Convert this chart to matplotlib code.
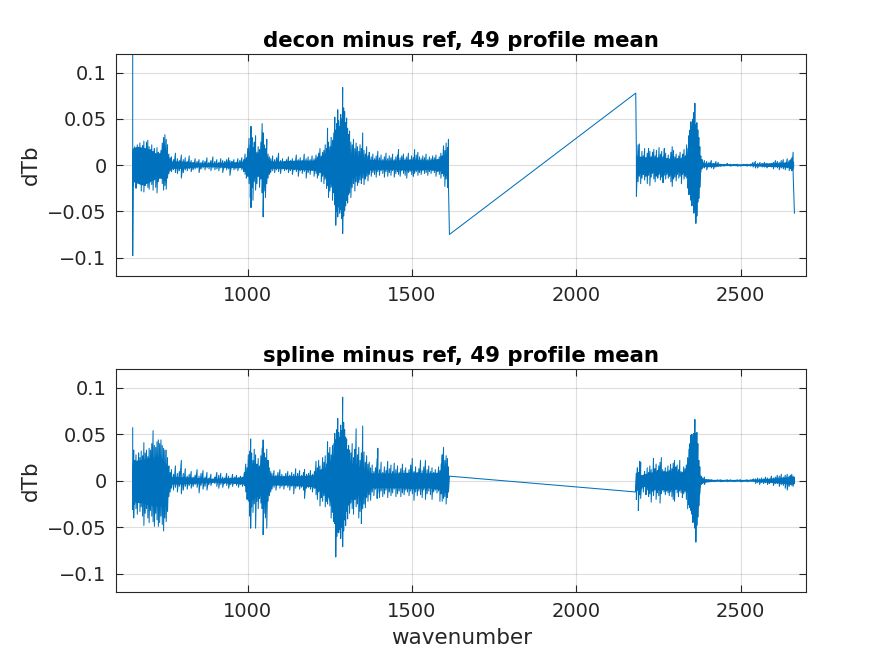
import numpy as np
import matplotlib
matplotlib.use("Agg")
import matplotlib.pyplot as plt

# values, dTb in mK (hi / lo extent at each wavenumber)
top_wn = [650, 652, 656, 660, 664, 668, 672, 676, 680, 684, 688, 692, 696, 700, 704, 708, 712, 716,
          720, 724, 728, 732, 736, 740, 744, 748, 752, 756, 760, 764,
          768, 774, 780, 786, 792, 798, 804, 810, 816, 822, 828, 834, 840, 846, 852, 858, 864, 870,
          876, 882, 888, 894, 900, 906, 912, 918, 924, 930, 936, 942, 946, 952, 958, 964, 970, 976,
          982, 988,
          992, 996, 1000, 1004, 1008, 1010, 1013, 1016, 1020, 1024, 1028, 1032, 1036, 1040, 1044,
          1047, 1050, 1054, 1058, 1062, 1066, 1070,
          1076, 1082, 1088, 1094, 1100, 1106, 1112, 1118, 1124, 1130, 1136, 1142, 1148, 1154, 1160,
          1166, 1172, 1178, 1184, 1190, 1196, 1202, 1208,
          1212, 1216, 1220, 1224, 1228, 1232, 1236, 1240, 1243, 1246, 1250, 1254, 1258, 1262, 1265,
          1268, 1271, 1274, 1277, 1280, 1283, 1286, 1289, 1292, 1295, 1298, 1301, 1304, 1307, 1310,
          1314, 1318, 1322, 1326, 1330, 1334, 1338, 1342, 1346, 1350, 1354, 1358, 1362, 1366, 1370,
          1376, 1381, 1386, 1391, 1396, 1401, 1406, 1411, 1416, 1421, 1426, 1431, 1436, 1441, 1446,
          1451, 1456, 1459, 1464, 1469, 1474, 1479, 1484, 1489, 1494, 1499, 1504, 1508, 1513, 1518,
          1523, 1528, 1533, 1538, 1543, 1548, 1553, 1558, 1563, 1568, 1573, 1578, 1583, 1588, 1592,
          1596, 1600, 1604, 1608, 1611, 1614,
          2181, 2183, 2188, 2192, 2196, 2200, 2204, 2208, 2212, 2216, 2220, 2224, 2228, 2232, 2236,
          2240, 2244, 2248, 2252, 2256, 2260, 2264, 2268, 2272, 2276, 2280, 2284, 2288, 2292, 2296,
          2300, 2304, 2308, 2312, 2316, 2320, 2324, 2328, 2332, 2336, 2340, 2343, 2346, 2349, 2352,
          2355, 2358, 2361, 2364, 2367, 2370, 2373, 2376, 2379,
          2383, 2390, 2397, 2404, 2411, 2418, 2425, 2432, 2440, 2450, 2460, 2470, 2480, 2490, 2500,
          2510, 2520, 2530, 2538, 2545, 2552, 2559, 2566, 2573, 2580, 2587, 2594, 2600, 2606, 2612,
          2618, 2624, 2630, 2636, 2642, 2648, 2652, 2656, 2660, 2664]
top_hi = [200, 15, 20, 12, 22, 18, 24, 16, 21, 26, 14, 25, 27, 20, 17, 22, 15, 18,
          12, 19, 14, 10, 16, 24, 30, 33, 28, 22, 12, 8,
          9, 6, 13, 7, 5, 11, 6, 8, 4, 10, 5, 3, 7, 4, 6, 3, 5, 4,
          8, 3, 5, 9, 4, 6, 3, 7, 5, 4, 6, 8, 5, 4, 6, 3, 7, 5,
          8, 6,
          12, 8, 18, 29, 22, 42, 30, 19, 25, 32, 14, 20, 17, 25, 45,
          35, 22, 18, 28, 12, 9, 7,
          10, 6, 8, 13, 5, 7, 4, 6, 9, 5, 7, 4, 11, 6, 8,
          5, 12, 7, 9, 6, 10, 7, 11,
          9, 13, 18, 10, 14, 16, 22, 18, 40, 25, 20, 30, 27, 35, 52,
          38, 45, 60, 48, 42, 55, 50, 84, 62, 58, 46, 51, 40, 33, 37,
          25, 22, 28, 18, 24, 20, 15, 22, 18, 35, 16, 12, 20, 10, 14,
          9, 12, 7, 10, 15, 8, 11, 6, 9, 13, 7, 10, 8, 12, 6,
          9, 11, 17, 8, 10, 12, 7, 9, 13, 6, 10, 8, 17, 11, 14,
          9, 7, 10, 8, 12, 6, 9, 7, 10, 8, 11, 6, 9, 13, 10,
          21, 16, 24, 19, 28, -75,
          78, 12, 22, 23, 8, 15, 10, 18, 7, 13, 18, 15, 9, 14, 17,
          10, 16, 8, 19, 12, 15, 9, 18, 13, 7, 11, 6, 14, 20, 16,
          9, 12, 7, 10, 14, 8, 12, 17, 10, 22, 18, 32, 38, 47, 42,
          50, 57, 67, 44, 46, 38, 30, 20, 10,
          6, 5, 4, 3, 5, 2, 4, 3, 1, 1, 2, 1, 1, 1, 0,
          1, 1, 1, 3, 4, 2, 3, 2, 3, 2, 1, 2, 3, 5, 4,
          3, 5, 6, 3, 7, 5, 6, 8, 14, -52]
top_lo = [-98, -22, -15, -25, -18, -14, -20, -28, -17, -29, -22, -19, -24, -26, -18, -21, -27, -16,
          -24, -30, -18, -14, -12, -20, -27, -22, -26, -14, -9, -6,
          -7, -5, -8, -9, -6, -14, -8, -5, -6, -4, -7, -5, -4, -3, -8, -4, -3, -5,
          -3, -4, -6, -3, -5, -4, -6, -3, -8, -3, -5, -4, -11, -3, -5, -4, -6, -3,
          -5, -7,
          -10, -14, -12, -20, -35, -46, -24, -38, -18, -27, -20, -12, -24, -15, -30,
          -56, -28, -35, -20, -14, -10, -8,
          -6, -8, -5, -7, -9, -4, -6, -5, -8, -6, -10, -5, -7, -12, -6,
          -9, -7, -14, -8, -10, -6, -12, -9,
          -14, -11, -8, -18, -12, -20, -15, -25, -22, -35, -28, -24, -38, -30, -43,
          -65, -50, -56, -45, -52, -48, -58, -74, -55, -49, -44, -38, -41, -32, -30,
          -35, -24, -20, -28, -18, -22, -19, -16, -20, -14, -21, -15, -12, -17, -10,
          -12, -8, -10, -13, -7, -11, -6, -9, -13, -7, -12, -8, -11, -6, -13,
          -9, -7, -10, -12, -6, -9, -11, -14, -8, -7, -10, -12, -9, -7, -11,
          -8, -10, -6, -9, -8, -11, -7, -9, -6, -8, -12, -7, -10, -14, -9,
          -12, -23, -15, -24, -22, -75,
          78, -34, -18, -12, -20, -14, -10, -16, -12, -20, -11, -22, -13, -9, -15,
          -18, -12, -14, -10, -16, -13, -19, -11, -15, -10, -14, -12, -18, -23, -15,
          -13, -17, -10, -14, -12, -20, -10, -15, -12, -14, -25, -32, -26, -38, -44,
          -35, -52, -48, -63, -55, -40, -36, -24, -8,
          -4, -3, -5, -2, -3, -4, -2, -1, -1, -1, 0, -1, 0, -1, -1,
          0, -1, -1, -2, -3, -3, -1, -2, -2, -3, -1, -2, -4, -2, -3,
          -5, -3, -4, -5, -3, -6, -4, -6, -9, -52]

# solid core of the dense trace (mK), nan marks the gap between bands
top_core_wn = [650, 665, 680, 695, 710, 725, 740, 750, 758, 764, 770, 800, 830, 860, 900, 940,
               980, 992, 1000, 1010, 1020, 1030, 1040, 1050, 1058, 1066, 1075, 1100, 1150, 1200,
               1215, 1230, 1245, 1255, 1265, 1275, 1285, 1295, 1305, 1315, 1330, 1350, 1370, 1400,
               1450, 1500, 1550, 1590, 1605, 1612, 1900,
               2182, 2200, 2230, 2260, 2290, 2320, 2340, 2350, 2360, 2368, 2375, 2380, 2390, 2420,
               2450, 2500, 2540, 2580, 2620, 2650, 2663]
top_core_hi = [18, 20, 19, 18, 15, 12, 14, 18, 12, 5, 4, 4, 3, 2, 2, 3,
               3, 5, 10, 18, 14, 12, 13, 15, 12, 5, 4, 4, 5, 5,
               7, 10, 14, 20, 28, 34, 36, 28, 20, 13, 10, 9, 6, 5,
               5, 6, 5, 7, 12, 14, np.nan,
               10, 9, 8, 8, 7, 7, 12, 25, 35, 25, 10, 4, 2, 2,
               1, 1, 1, 2, 2, 3, 4]
top_core_lo = [-18, -20, -22, -20, -17, -14, -15, -18, -10, -5, -4, -4, -3, -2, -2, -3,
               -3, -5, -10, -20, -15, -12, -14, -18, -12, -5, -4, -4, -5, -6,
               -7, -10, -16, -22, -32, -38, -40, -30, -20, -14, -10, -9, -6, -5,
               -5, -6, -5, -7, -12, -14, np.nan,
               -10, -9, -8, -8, -8, -7, -12, -25, -35, -30, -10, -4, -2, -2,
               -1, -1, -1, -2, -2, -3, -4]

bot_wn = [650, 653, 656, 660, 664, 668, 672, 676, 680, 684, 688, 692, 696, 700, 704, 708, 712, 716,
          720, 724, 728, 732, 736, 740, 744, 748, 752, 756, 760, 764,
          768, 774, 780, 786, 792, 798, 804, 810, 816, 822, 828, 834, 840, 846, 852, 858, 864, 870,
          876, 882, 888, 894, 900, 906, 912, 918, 924, 930, 936, 942, 948, 954, 960, 966, 972, 978,
          984, 990,
          994, 998, 1002, 1006, 1009, 1012, 1016, 1020, 1024, 1028, 1032, 1036, 1040, 1044, 1047,
          1050, 1054, 1058, 1062, 1066, 1070, 1074,
          1080, 1086, 1092, 1098, 1104, 1110, 1116, 1122, 1128, 1134, 1140, 1146, 1152, 1158, 1164,
          1170, 1173, 1179, 1185, 1191, 1197, 1203,
          1208, 1212, 1216, 1220, 1224, 1228, 1232, 1236, 1240, 1243, 1246, 1250, 1254, 1258, 1262,
          1265, 1268, 1271, 1274, 1277, 1280, 1283, 1286, 1289, 1292, 1295, 1298, 1301, 1304, 1307,
          1310, 1314, 1318, 1322, 1326, 1330, 1334, 1338, 1342, 1346, 1350, 1354, 1358, 1362, 1366,
          1370, 1374,
          1379, 1384, 1389, 1394, 1396, 1401, 1406, 1411, 1416, 1421, 1426, 1431, 1436, 1441, 1446,
          1451, 1456, 1461, 1466, 1471, 1476, 1481, 1486, 1491, 1496, 1501, 1506, 1511, 1516, 1521,
          1526, 1531, 1536, 1541, 1546, 1551, 1556, 1561, 1566, 1571, 1576, 1581, 1585, 1589, 1592,
          1596, 1600, 1604, 1608, 1611, 1614,
          2180, 2183, 2186, 2189, 2193, 2196, 2200, 2204, 2208, 2212, 2216, 2220, 2224, 2228, 2232,
          2235, 2239, 2243, 2247, 2251, 2255, 2259, 2263, 2267, 2271, 2275, 2279, 2283, 2287, 2291,
          2295, 2299, 2303, 2307, 2311, 2315, 2319, 2323, 2327, 2331, 2335, 2339, 2343, 2346, 2349,
          2352, 2355, 2358, 2361, 2364, 2367, 2370, 2373, 2376, 2380,
          2384, 2390, 2396, 2404, 2412, 2420, 2430, 2440, 2450, 2460, 2470, 2480, 2490, 2500, 2510,
          2520, 2530, 2540, 2546, 2552, 2558, 2564, 2570, 2576, 2582, 2588, 2594, 2600, 2606, 2612,
          2618, 2624, 2630, 2636, 2642, 2648, 2652, 2656, 2660, 2664]
bot_hi = [57, 33, 22, 28, 20, 30, 25, 32, 27, 41, 30, 33, 26, 35, 33, 40, 54, 38,
          36, 42, 44, 40, 44, 38, 35, 33, 33, 25, 16, 9,
          12, 7, 16, 8, 10, 22, 8, 13, 5, 7, 10, 4, 6, 12, 5, 8, 11, 4,
          9, 3, 7, 2, 4, 9, 6, 8, 4, 3, 8, 5, 3, 7, 4, 6, 3, 5,
          4, 9,
          18, 14, 28, 32, 45, 30, 22, 34, 28, 18, 24, 16, 27, 35, 44,
          30, 25, 34, 22, 14, 10, 8,
          11, 6, 9, 12, 7, 5, 8, 10, 6, 9, 7, 13, 8, 11, 6,
          9, 12, 7, 8, 11, 7, 10,
          21, 14, 22, 16, 12, 25, 20, 27, 18, 42, 30, 36, 28, 38, 40,
          51, 44, 55, 67, 52, 47, 60, 54, 90, 63, 55, 47, 45, 34, 38,
          33, 30, 40, 25, 34, 56, 28, 36, 22, 30, 59, 31, 20, 27, 18,
          20, 14,
          17, 10, 14, 24, 35, 12, 20, 9, 15, 11, 21, 13, 17, 10, 19,
          12, 16, 9, 13, 18, 11, 14, 8, 12, 17, 24, 10, 15, 9, 13,
          22, 11, 15, 22, 12, 16, 10, 14, 9, 12, 8, 15, 11, 18, 28,
          36, 22, 27, 24, 15, 5,
          -12, 8, 14, 9, 21, 20, 4, 6, 10, 7, 14, 9, 16, 12, 8,
          24, 13, 18, 11, 16, 20, 25, 12, 10, 14, 9, 16, 11, 18, 13,
          19, 22, 15, 17, 12, 22, 10, 7, 15, 13, 17, 25, 34, 40, 49,
          50, 46, 51, 66, 51, 52, 40, 22, 15, 5,
          3, 4, 1, 1, 1, 0, 1, 1, 0, 1, 1, 0, 1, 1, 0,
          1, 1, 2, 2, 3, 2, 3, 2, 4, 3, 2, 5, 3, 4, 6,
          5, 7, 4, 6, 7, 5, 6, 7, 5, 4]
bot_lo = [-31, -40, -25, -30, -36, -22, -33, -28, -38, -48, -35, -30, -40, -45, -32, -38, -44, -49,
          -35, -42, -49, -45, -38, -47, -54, -40, -44, -33, -17, -12,
          -8, -10, -7, -12, -6, -14, -10, -6, -9, -5, -8, -6, -4, -7, -13, -5, -9, -6,
          -10, -4, -5, -2, -3, -6, -8, -4, -7, -3, -5, -8, -4, -6, -3, -5, -7, -4,
          -6, -5,
          -12, -20, -22, -38, -51, -28, -34, -25, -51, -22, -30, -19, -24, -30, -58,
          -35, -40, -51, -22, -16, -12, -9,
          -7, -10, -5, -8, -6, -9, -5, -7, -10, -6, -14, -8, -6, -9, -7,
          -10, -19, -8, -7, -9, -12, -8,
          -15, -20, -12, -27, -18, -22, -16, -28, -22, -25, -15, -27, -40, -34, -44,
          -46, -82, -60, -55, -56, -52, -62, -50, -71, -54, -42, -48, -33, -41, -26,
          -35, -24, -30, -36, -20, -28, -25, -40, -33, -46, -30, -25, -29, -18, -22,
          -15, -21,
          -12, -16, -9, -19, -13, -18, -11, -17, -14, -10, -18, -12, -16, -13, -9,
          -17, -14, -11, -17, -13, -15, -10, -12, -16, -11, -14, -21, -12, -16, -11,
          -15, -18, -10, -20, -14, -11, -15, -20, -12, -10, -13, -11, -22, -14, -22,
          -19, -17, -25, -18, -12, 5,
          -12, -20, -10, -32, -15, -19, -8, -12, -4, -15, -10, -17, -14, -23, -11,
          -16, -10, -20, -13, -16, -24, -14, -10, -12, -15, -11, -13, -16, -12, -17,
          -20, -22, -9, -13, -17, -11, -13, -18, -14, -12, -20, -30, -26, -29, -32,
          -36, -45, -42, -51, -66, -48, -39, -27, -14, -4,
          -3, -4, -1, -1, 0, -1, 0, -1, 0, -1, 0, -1, 0, -1, 0,
          -1, 0, -1, -3, -2, -4, -2, -3, -2, -4, -3, -2, -5, -3, -3,
          -6, -4, -5, -8, -10, -6, -4, -5, -6, -3]

bot_core_wn = [650, 665, 680, 695, 710, 725, 740, 752, 760, 765, 770, 800, 850, 900, 950, 990,
               1000, 1010, 1025, 1040, 1050, 1060, 1068, 1080, 1120, 1160, 1200, 1215, 1230, 1245,
               1260, 1275, 1290, 1305, 1320, 1335, 1350, 1365, 1380, 1420, 1460, 1500, 1550, 1590,
               1605, 1612, 1900,
               2183, 2200, 2230, 2260, 2290, 2320, 2340, 2350, 2360, 2368, 2375, 2380, 2390, 2420,
               2480, 2540, 2580, 2620, 2650, 2663]
bot_core_hi = [20, 22, 22, 24, 25, 26, 24, 18, 10, 5, 4, 4, 3, 2, 3, 4,
               12, 20, 16, 15, 18, 12, 6, 5, 5, 5, 6, 9, 12, 17,
               26, 34, 34, 24, 18, 16, 14, 9, 8, 8, 8, 9, 8, 9,
               14, 10, np.nan,
               8, 6, 9, 10, 10, 9, 12, 25, 38, 30, 10, 4, 2, 1,
               1, 1, 2, 3, 4, 4]
bot_core_lo = [-22, -24, -24, -26, -27, -28, -27, -20, -10, -5, -4, -4, -3, -2, -3, -4,
               -12, -22, -18, -16, -20, -12, -6, -5, -5, -6, -7, -10, -13, -18,
               -30, -38, -36, -25, -19, -17, -14, -9, -8, -8, -8, -9, -8, -10,
               -14, -10, np.nan,
               -8, -6, -9, -10, -10, -9, -12, -25, -40, -32, -10, -4, -2, -1,
               -1, -1, -2, -3, -4, -4]

titles = ["decon minus ref, 49 profile mean", "spline minus ref, 49 profile mean"]
yticks = [-0.1, -0.05, 0, 0.05, 0.1]
ytick_labels = ["\u22120.1", "\u22120.05", "0", "0.05", "0.1"]
xticks = [1000, 1500, 2000, 2500]

line_color = "#0072BD"
axis_color = "#262626"

plt.rcParams["font.family"] = ["DejaVu Sans"]


def trace(wn, hi, lo):
    # each channel drawn as a stroke from its hi value to its lo value
    x = np.repeat(np.asarray(wn, dtype=float), 2)
    y = np.column_stack([np.asarray(hi, float), np.asarray(lo, float)]).ravel() / 1000.0
    return x, y


fig = plt.figure(figsize=(8.91, 6.64), dpi=100)
ax1 = fig.add_axes([0.1305, 0.5843, 0.7744, 0.3339])
ax2 = fig.add_axes([0.1305, 0.108, 0.7744, 0.3358])

data = [(top_wn, top_hi, top_lo, top_core_wn, top_core_hi, top_core_lo),
        (bot_wn, bot_hi, bot_lo, bot_core_wn, bot_core_hi, bot_core_lo)]
for ax, (wn, hi, lo, cwn, chi, clo), title in zip([ax1, ax2], data, titles):
    ax.fill_between(cwn, np.array(chi) / 1000.0, np.array(clo) / 1000.0,
                    color=line_color, linewidth=0)
    x, y = trace(wn, hi, lo)
    ax.plot(x, y, color=line_color, linewidth=0.75)
    ax.set_xlim(600, 2700)
    ax.set_ylim(-0.12, 0.12)
    ax.set_xticks(xticks)
    ax.set_yticks(yticks)
    ax.set_yticklabels(ytick_labels)
    ax.grid(True, color="#262626", alpha=0.15, linewidth=0.8)
    ax.set_axisbelow(True)
    ax.tick_params(direction="in", length=5, width=0.8, top=True, right=True,
                   labelsize=14, colors=axis_color, pad=7)
    for s in ax.spines.values():
        s.set_color(axis_color)
        s.set_linewidth(0.8)
    ax.set_ylabel("dTb", fontsize=15.5, color=axis_color, labelpad=4)
    ax.set_title(title, fontsize=15.3, fontweight="bold", pad=5)

ax2.set_xlabel("wavenumber", fontsize=15.5, color=axis_color, labelpad=5)

fig.savefig("out.png", dpi=100)
